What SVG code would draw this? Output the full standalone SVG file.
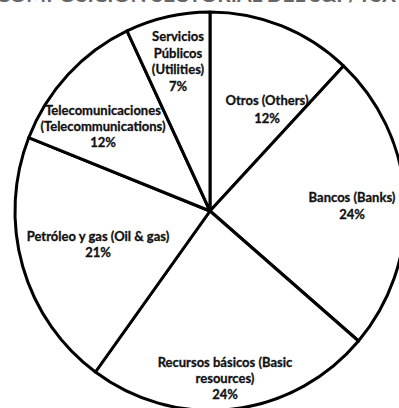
<svg xmlns="http://www.w3.org/2000/svg" width="399" height="408" viewBox="0 0 399 408">
<style>
.s{fill:#fff;stroke:#000;stroke-width:3;stroke-linejoin:round}
.t{font-family:Lato,"Open Sans","Liberation Sans",sans-serif;font-weight:bold;font-size:13px;fill:#111;stroke:#111;stroke-width:0.3;text-anchor:middle}
.title{font-family:Lato,"Liberation Sans",sans-serif;font-weight:bold;font-size:21px;fill:#666;text-anchor:middle}
</style>
<rect width="399" height="408" fill="#fff"/>
<text class="title" x="196" y="2" textLength="400">COMPOSICIÓN SECTORIAL DEL S&amp;P/TSX</text>
<g id="otros">
<path class="s" d="M210,211 L210,12 A195,199 0 0 1 343.5,65.9 Z"/>
<text class="t" x="267" y="105">Otros (Others)</text>
<text class="t" x="267" y="123">12%</text>
</g>
<g id="bancos">
<path class="s" d="M210,211 L343.5,65.9 A195,199 0 0 1 358.5,341 Z"/>
<text class="t" x="352" y="202">Bancos (Banks)</text>
<text class="t" x="352" y="219">24%</text>
</g>
<g id="recursos">
<path class="s" d="M210,211 L358.5,341 A195,199 0 0 1 95.4,372 Z"/>
<text class="t" x="225" y="367">Recursos básicos (Basic</text>
<text class="t" x="225" y="383">resources)</text>
<text class="t" x="225" y="399">24%</text>
</g>
<g id="petroleo">
<path class="s" d="M210,211 L95.4,372 A195,199 0 0 1 28.7,137.7 Z"/>
<text class="t" x="98" y="241">Petróleo y gas (Oil &amp; gas)</text>
<text class="t" x="98" y="257">21%</text>
</g>
<g id="telecom">
<path class="s" d="M210,211 L28.7,137.7 A195,199 0 0 1 127,30.9 Z"/>
<text class="t" x="103" y="115">Telecomunicaciones</text>
<text class="t" x="103" y="131">(Telecommunications)</text>
<text class="t" x="103" y="147">12%</text>
</g>
<g id="servicios">
<path class="s" d="M210,211 L127,30.9 A195,199 0 0 1 210,12 Z"/>
<text class="t" x="178" y="41">Servicios</text>
<text class="t" x="178" y="58">Públicos</text>
<text class="t" x="178" y="74">(Utilities)</text>
<text class="t" x="178" y="91">7%</text>
</g>
</svg>
